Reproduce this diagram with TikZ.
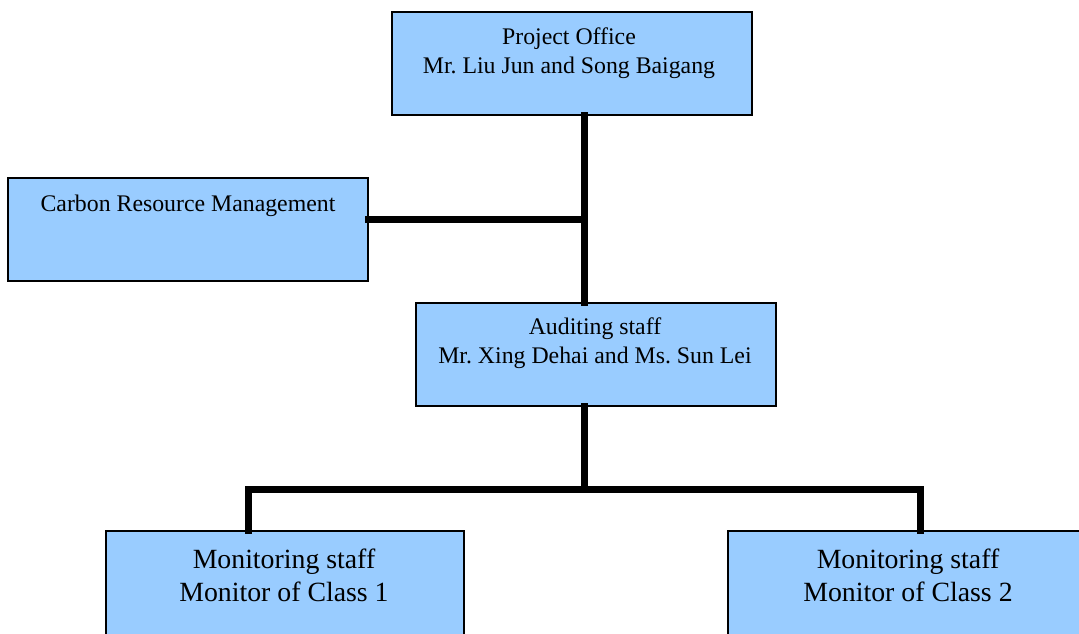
\documentclass[tikz,border=0pt]{standalone}
\usepackage{fontspec}
\setmainfont{Liberation Serif}
\frenchspacing
\definecolor{boxblue}{HTML}{99CCFF}
\begin{document}
\begin{tikzpicture}[x=1pt,y=-1pt,
  box/.style={draw=black,fill=boxblue,line width=1.3pt,rectangle,inner sep=0pt},
  txt/.style={align=center,inner sep=0pt,font=\fontsize{23.8}{29}\selectfont},
  bigtxt/.style={align=center,inner sep=0pt,font=\fontsize{27.8}{33}\selectfont},
  conn/.style={line width=7pt,line cap=rect}]
\useasboundingbox (0,0) rectangle (1079,633);
\clip (0,0) rectangle (1079,633);
\fill[white] (0,0) rectangle (1079,633);
% boxes
\node[box,minimum width=360pt,minimum height=103pt] (po) at (572,63.5) {};
\node[box,minimum width=360pt,minimum height=103pt] (crm) at (188,229.5) {};
\node[box,minimum width=360pt,minimum height=103pt] (aud) at (596,354.5) {};
\node[box,minimum width=358pt,minimum height=120pt] (m1) at (285,591) {};
\node[box,minimum width=362pt,minimum height=120pt] (m2) at (909,591) {};
% texts
\node[txt] (pot) at (569,53) {Project Office\\ Mr. Liu Jun and Song Baigang};
\node[txt] (crmt) at (188,206) {Carbon Resource Management};
\node[txt] (audt) at (595,343) {Auditing staff\\ Mr. Xing Dehai and Ms. Sun Lei};
\node[bigtxt] (m1t) at (284,575) {Monitoring staff\\ Monitor of Class 1};
\node[bigtxt] (m2t) at (908,575) {Monitoring staff\\ Monitor of Class 2};
% connectors
\coordinate (j1) at (584,219);
\coordinate (j2) at (584,489);
\coordinate (b1) at (248,489);
\coordinate (b2) at (920,489);
\draw[conn] ([xshift=12pt]po.south) -- ([xshift=-12pt]aud.north);
\draw[conn] ([yshift=10.5pt]crm.east) -- (j1);
\draw[conn] ([xshift=-12pt]aud.south) -- (j2);
\draw[conn] (b1) -- (b2);
\draw[conn] (b1) -- (b1 |- m1.north);
\draw[conn] (b2) -- (b2 |- m2.north);
\end{tikzpicture}
\end{document}
